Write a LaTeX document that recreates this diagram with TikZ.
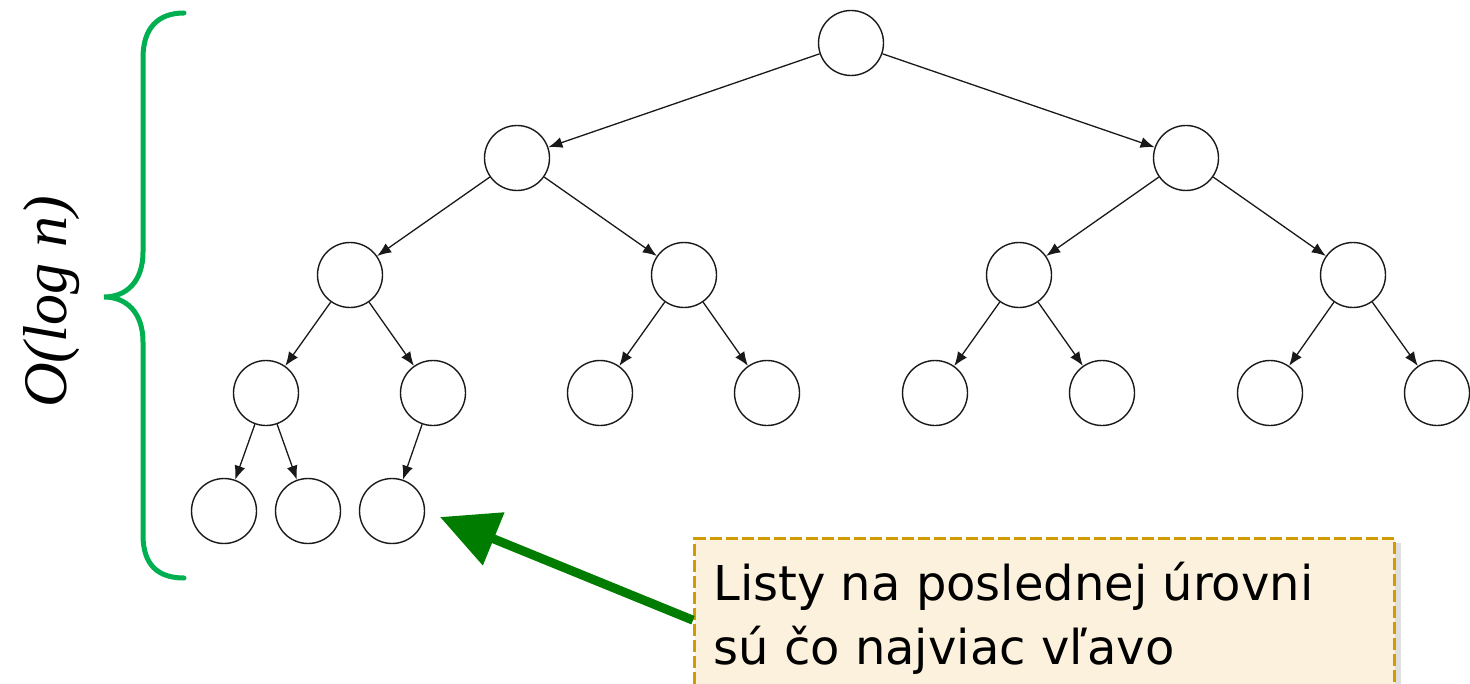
\documentclass[tikz,border=0pt]{standalone}
\usepackage{fontspec}
\setmainfont{DejaVu Sans}
\newfontfamily\tmsfont{Liberation Serif}
\usetikzlibrary{arrows.meta,shadows}
\definecolor{bracegreen}{RGB}{0,176,80}
\definecolor{arrowgreen}{RGB}{0,125,0}
\definecolor{arrowlight}{RGB}{40,160,40}
\definecolor{boxfill}{RGB}{251,241,220}
\definecolor{boxedge}{RGB}{208,156,0}
\tikzset{
  tnode/.style={circle,draw=black!90,line width=0.7pt,minimum size=32.5pt,inner sep=0pt},
  tedge/.style={draw=black!90,line width=0.65pt,-{Latex[length=7pt,width=5.5pt]}},
  callbox/.style={draw=boxedge,fill=boxfill,line width=1.7pt,dash pattern=on 6pt off 2pt,
    minimum width=350pt,minimum height=81.5pt,inner sep=0pt,
    drop shadow={opacity=0.25,shadow xshift=3pt,shadow yshift=-2pt}},
  calltext/.style={font=\fontsize{24}{30}\selectfont,anchor=base west,inner sep=0pt},
  bigarrow/.style={draw=arrowgreen,line width=4.5pt,-{Triangle[length=29pt,width=27.5pt]}},
  bracestyle/.style={draw=bracegreen,line width=2.5pt,line cap=round}
}
\begin{document}
\begin{tikzpicture}[x=0.5pt,y=-0.5pt]
\useasboundingbox (0,0) rectangle (1470,684);
\clip (0,0) rectangle (1470,684);
% tree nodes
\node[tnode] (r) at (851,43) {};
\node[tnode] (a) at (517,158) {};
\node[tnode] (b) at (1186,158) {};
\node[tnode] (aa) at (350,275) {};
\node[tnode] (ab) at (684,275) {};
\node[tnode] (ba) at (1019,275) {};
\node[tnode] (bb) at (1353,275) {};
\node[tnode] (aaa) at (266,393) {};
\node[tnode] (aab) at (433,393) {};
\node[tnode] (aba) at (600,393) {};
\node[tnode] (abb) at (767,393) {};
\node[tnode] (baa) at (935,393) {};
\node[tnode] (bab) at (1102,393) {};
\node[tnode] (bba) at (1270,393) {};
\node[tnode] (bbb) at (1437,393) {};
\node[tnode] (aaaa) at (224,511) {};
\node[tnode] (aaab) at (308,511) {};
\node[tnode] (aaba) at (392,511) {};
% edges
\draw[tedge] (r) -- (a);
\draw[tedge] (r) -- (b);
\draw[tedge] (a) -- (aa);
\draw[tedge] (a) -- (ab);
\draw[tedge] (b) -- (ba);
\draw[tedge] (b) -- (bb);
\draw[tedge] (aa) -- (aaa);
\draw[tedge] (aa) -- (aab);
\draw[tedge] (ab) -- (aba);
\draw[tedge] (ab) -- (abb);
\draw[tedge] (ba) -- (baa);
\draw[tedge] (ba) -- (bab);
\draw[tedge] (bb) -- (bba);
\draw[tedge] (bb) -- (bbb);
\draw[tedge] (aaa) -- (aaaa);
\draw[tedge] (aaa) -- (aaab);
\draw[tedge] (aab) -- (aaba);
% brace
\draw[bracestyle] (184,13) .. controls (158,13) and (143,28) .. (143,58)
  -- (143,252) .. controls (143,282) and (126,297) .. (104,297)
  .. controls (126,297) and (143,312) .. (143,342)
  -- (143,535) .. controls (143,565) and (158,578) .. (184,578);
\node[rotate=90,anchor=base,inner sep=0pt,font=\tmsfont\itshape\fontsize{31}{36}\selectfont] (olog) at (66,302) {O(log n)};
% callout
\coordinate (gtip) at (440,517);
\node[callbox,anchor=north west] (callout) at (693,537) {};
\draw[bigarrow] (callout.west) -- (gtip);
\node[calltext] (line1) at (713,600) {Listy na poslednej úrovni};
\node[calltext] (line2) at (713,664) {sú čo najviac vľavo};
\end{tikzpicture}
\end{document}
